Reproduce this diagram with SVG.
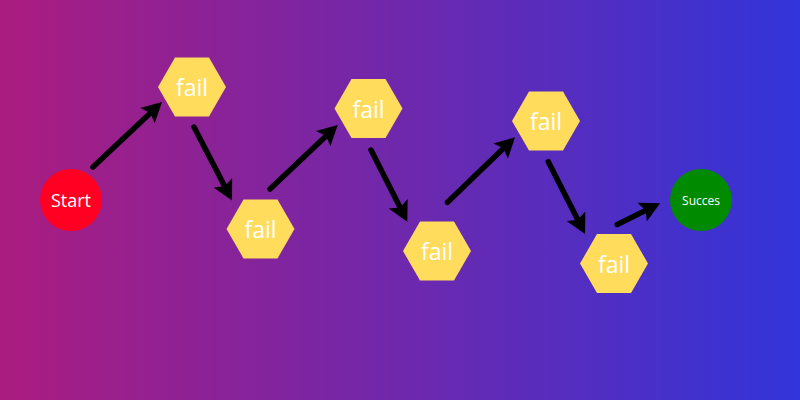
<svg xmlns="http://www.w3.org/2000/svg" width="800" height="400" viewBox="0 0 800 400">
  <defs>
    <linearGradient id="bg" x1="0" y1="0" x2="1" y2="0">
      <stop offset="0" stop-color="#ab1c7f"/>
      <stop offset="1" stop-color="#3234d9"/>
    </linearGradient>
    <marker id="head" viewBox="0 0 20 22" markerWidth="20" markerHeight="22" refX="8" refY="11" orient="auto" markerUnits="userSpaceOnUse">
      <path d="M0,0.5 L20,11 L0,21.5 L4,11 z" fill="#000"/>
    </marker>
    <polygon id="hex" points="-34,0 -17,-29.4 17,-29.4 34,0 17,29.4 -17,29.4"/>
  </defs>
  <style>
    .hex { fill: #ffdc5c; }
    .lbl { fill: #ffffff; font-family: "Open Sans", "DejaVu Sans", sans-serif; text-anchor: middle; dominant-baseline: central; }
    .fail { font-size: 23px; }
    .edge { stroke: #000; stroke-width: 5.5; stroke-linecap: round; fill: none; marker-end: url(#head); }
  </style>
  <rect width="800" height="400" fill="url(#bg)"/>
  <g id="connectors">
    <line class="edge" x1="93" y1="167" x2="153.3" y2="110.2"/>
    <line class="edge" x1="194" y1="127" x2="226.5" y2="189.8"/>
    <line class="edge" x1="270" y1="189" x2="329" y2="133.2"/>
    <line class="edge" x1="371" y1="150" x2="401.9" y2="211"/>
    <line class="edge" x1="447.5" y1="202.3" x2="506.4" y2="145.6"/>
    <line class="edge" x1="548.3" y1="161.7" x2="579.6" y2="223.3"/>
    <line class="edge" x1="617.3" y1="224.5" x2="649.3" y2="208.6"/>
  </g>
  <g id="start">
    <circle cx="71" cy="200" r="31" fill="#ff0022"/>
    <text class="lbl" x="71" y="200" font-size="18">Start</text>
  </g>
  <g id="fail1" transform="translate(192,87)">
    <use href="#hex" class="hex"/>
    <text class="lbl fail" x="0" y="0">fail</text>
  </g>
  <g id="fail2" transform="translate(260.5,229)">
    <use href="#hex" class="hex"/>
    <text class="lbl fail" x="0" y="0">fail</text>
  </g>
  <g id="fail3" transform="translate(368.5,108.5)">
    <use href="#hex" class="hex"/>
    <text class="lbl fail" x="0" y="0">fail</text>
  </g>
  <g id="fail4" transform="translate(437,251)">
    <use href="#hex" class="hex"/>
    <text class="lbl fail" x="0" y="0">fail</text>
  </g>
  <g id="fail5" transform="translate(546,121)">
    <use href="#hex" class="hex"/>
    <text class="lbl fail" x="0" y="0">fail</text>
  </g>
  <g id="fail6" transform="translate(614,263.5)">
    <use href="#hex" class="hex"/>
    <text class="lbl fail" x="0" y="0">fail</text>
  </g>
  <g id="succes">
    <circle cx="701" cy="200" r="31" fill="#008a00"/>
    <text class="lbl" x="701" y="200" font-size="12">Succes</text>
  </g>
</svg>
